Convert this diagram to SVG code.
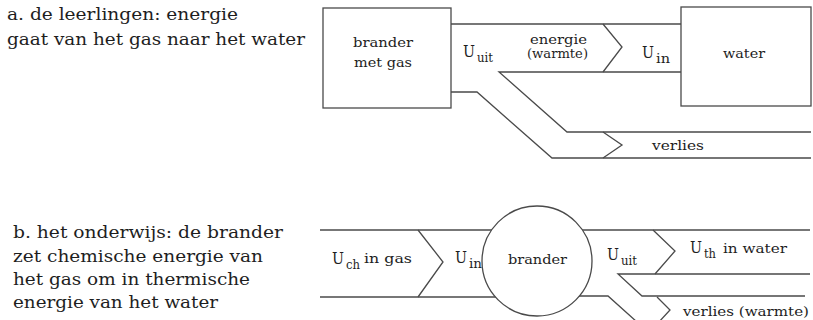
<svg xmlns="http://www.w3.org/2000/svg" width="813" height="320" viewBox="0 0 813 320" font-family="'DejaVu Serif', 'Liberation Serif', serif">
  <style>
    .ln { fill: none; stroke: #4a4a4a; stroke-width: 1.3; stroke-linejoin: miter; }
    .box { fill: #fff; stroke: #4a4a4a; stroke-width: 1.3; }
    .t { font-family: 'DejaVu Serif', 'Liberation Serif', serif; fill: #1e1e1e; }
    .cap { font-size: 16px; }
    .lbl { font-size: 13px; }
    .u { font-size: 16px; }
    .sub { font-size: 12px; }
  </style>
  <rect width="813" height="320" fill="#fff"/>

  <!-- captions -->
  <g id="caption-a" class="t cap">
    <text x="7" y="20" textLength="231" lengthAdjust="spacingAndGlyphs">a. de leerlingen: energie</text>
    <text x="7" y="45" textLength="298" lengthAdjust="spacingAndGlyphs">gaat van het gas naar het water</text>
  </g>
  <g id="caption-b" class="t cap">
    <text x="13" y="238" textLength="270" lengthAdjust="spacingAndGlyphs">b. het onderwijs: de brander</text>
    <text x="13" y="262" textLength="250" lengthAdjust="spacingAndGlyphs">zet chemische energie van</text>
    <text x="13" y="285" textLength="237" lengthAdjust="spacingAndGlyphs">het gas om in thermische</text>
    <text x="13" y="308" textLength="205" lengthAdjust="spacingAndGlyphs">energie van het water</text>
  </g>

  <!-- energy channels -->
  <g id="connectors">
    <!-- diagram a -->
    <path class="ln" d="M451,24 H681"/>
    <path class="ln" d="M681,72 H499 L567,132 H811"/>
    <path class="ln" d="M451,92 H477 L552,158 H811"/>
    <path class="ln" d="M603,24 L622,47 L603,72"/>
    <path class="ln" d="M603,132 L622,145 L603,158"/>
    <!-- diagram b -->
    <path class="ln" d="M320,230 H492"/>
    <path class="ln" d="M320,297 H496"/>
    <path class="ln" d="M418,230 L443,262 L418,297"/>
    <path class="ln" d="M582,230 H810"/>
    <path class="ln" d="M810,274 H618 L642,296 H805"/>
    <path class="ln" d="M579,296 H608 L637,322"/>
    <path class="ln" d="M653,230 L675,251 L655,274"/>
    <path class="ln" d="M657,297 L670,310 L658,323"/>
  </g>

  <!-- diagram a nodes -->
  <g id="brander-met-gas">
    <rect class="box" x="323" y="8" width="128" height="100"/>
    <text class="t lbl" x="353" y="47" textLength="60" lengthAdjust="spacingAndGlyphs">brander</text>
    <text class="t lbl" x="354" y="67" textLength="58" lengthAdjust="spacingAndGlyphs">met gas</text>
  </g>
  <g id="water">
    <rect class="box" x="681" y="7" width="130" height="99"/>
    <text class="t lbl" x="723" y="58" textLength="42" lengthAdjust="spacingAndGlyphs">water</text>
  </g>
  <g id="labels-a" class="t">
    <text class="u" x="463" y="57" textLength="12" lengthAdjust="spacingAndGlyphs">U</text>
    <text class="sub" x="477" y="62" textLength="16" lengthAdjust="spacingAndGlyphs">uit</text>
    <text class="lbl" x="530" y="44" textLength="57" lengthAdjust="spacingAndGlyphs">energie</text>
    <text class="lbl" x="527" y="58" textLength="61" lengthAdjust="spacingAndGlyphs">(warmte)</text>
    <text class="u" x="642" y="58" textLength="12" lengthAdjust="spacingAndGlyphs">U</text>
    <text class="sub" x="656" y="63" textLength="14" lengthAdjust="spacingAndGlyphs">in</text>
    <text class="lbl" x="652" y="150" textLength="52" lengthAdjust="spacingAndGlyphs">verlies</text>
  </g>

  <!-- diagram b nodes -->
  <g id="brander">
    <circle class="box" cx="537" cy="261" r="55"/>
    <text class="t lbl" x="508" y="264" textLength="59" lengthAdjust="spacingAndGlyphs">brander</text>
  </g>
  <g id="labels-b" class="t">
    <text class="u" x="332" y="264" textLength="12" lengthAdjust="spacingAndGlyphs">U</text>
    <text class="sub" x="346" y="269" textLength="14" lengthAdjust="spacingAndGlyphs">ch</text>
    <text class="lbl" x="364" y="263" textLength="48" lengthAdjust="spacingAndGlyphs">in gas</text>
    <text class="u" x="455" y="263" textLength="12" lengthAdjust="spacingAndGlyphs">U</text>
    <text class="sub" x="469" y="268" textLength="13" lengthAdjust="spacingAndGlyphs">in</text>
    <text class="u" x="607" y="260" textLength="12" lengthAdjust="spacingAndGlyphs">U</text>
    <text class="sub" x="621" y="265" textLength="16" lengthAdjust="spacingAndGlyphs">uit</text>
    <text class="u" x="690" y="253" textLength="12" lengthAdjust="spacingAndGlyphs">U</text>
    <text class="sub" x="704" y="258" textLength="12" lengthAdjust="spacingAndGlyphs">th</text>
    <text class="lbl" x="723" y="253" textLength="64" lengthAdjust="spacingAndGlyphs">in water</text>
    <text class="lbl" x="683" y="316" font-size="15" textLength="126" lengthAdjust="spacingAndGlyphs">verlies (warmte)</text>
  </g>
</svg>
